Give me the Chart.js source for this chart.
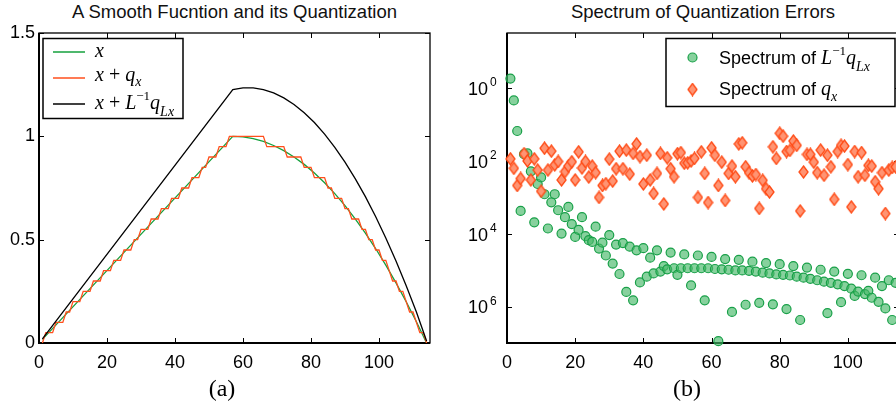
<!DOCTYPE html>
<html lang="en">
<head>
    <meta charset="UTF-8">
    <title>Smooth function, quantization and error spectrum</title>
    <script src="https://cdn.jsdelivr.net/npm/chart.js"></script>
    <style>
        html, body {
            margin: 0;
            padding: 0;
            width: 896px;
            height: 410px;
            overflow: hidden;
            background: #fff;
        }
        body { position: relative; }
        canvas { position: absolute; top: 0; }
        .title {
            position: absolute;
            top: 2px;
            font-family: 'Liberation Sans', Arial, sans-serif;
            font-size: 18.5px;
            line-height: 20px;
            text-align: center;
            color: #111;
            white-space: nowrap;
        }
        .caption {
            position: absolute;
            top: 376px;
            font-family: 'Liberation Serif', 'Times New Roman', serif;
            font-size: 24px;
            line-height: 24px;
            text-align: center;
            color: #000;
        }
    </style>
</head>
<body>
    <div class="title" style="left:39px;width:391px;">A Smooth Fucntion and its Quantization</div>
    <div class="title" style="left:507px;width:392px;">Spectrum of Quantization Errors</div>
    <canvas id="leftChart" width="450" height="410" style="left:0;"></canvas>
    <canvas id="rightChart" width="460" height="410" style="left:450px;"></canvas>
    <div class="caption" style="left:192px;width:60px;">(a)</div>
    <div class="caption" style="left:657px;width:60px;">(b)</div>

    <script>
        // ---- data ----
        const xTicks = [0, 20, 40, 60, 80, 100];
        const yTicksLin = [0, 0.5, 1, 1.5];
        const yTicksLog = [1e-6, 1e-4, 1e-2, 1];
        const yLogExp = ['6', '4', '2', '0'];   // printed exponents (no minus sign in the figure)

        // x (smooth signal)
        const smoothN = [1, 57, 60, 63, 66, 69, 72, 75, 78, 81, 84, 87, 90, 93, 96, 99, 102, 105, 108, 111, 114];
        const smoothV = [0.0175, 1, 0.9972, 0.9889, 0.9751, 0.9557, 0.9307, 0.9003, 0.8643, 0.8227, 0.7756,
                         0.7230, 0.6648, 0.6011, 0.5319, 0.4571, 0.3767, 0.2909, 0.1994, 0.1025, 0];

        // x + q_x (quantized, one value per sample 1..114)
        const quantV = [0, .05, .05, .05, .1, .1, .1, .15, .15, .2, .2, .2, .25, .25, .25, .3, .3, .3, .35, .35,
                        .35, .4, .4, .4, .45, .45, .45, .5, .5, .55, .55, .55, .6, .6, .6, .65, .65, .65, .7, .7,
                        .7, .75, .75, .75, .8, .8, .8, .85, .85, .9, .9, .9, .95, .95, .95, 1, 1, 1, 1, 1,
                        1, 1, 1, 1, 1, 1, .95, .95, .95, .95, .95, .95, .9, .9, .9, .9, .9, .85, .85, .85,
                        .8, .8, .8, .8, .75, .75, .7, .7, .7, .65, .65, .6, .6, .6, .55, .55, .5, .5, .45, .45,
                        .4, .4, .35, .3, .3, .25, .25, .2, .15, .15, .1, .05, .05, 0];

        // x + L^-1 q_Lx
        const blackN = [1, 57, 60, 63, 66, 69, 72, 75, 78, 81, 84, 87, 90, 93, 96, 99, 102, 105, 108, 111, 114];
        const blackV = [0.02, 1.226, 1.234, 1.234, 1.226, 1.210, 1.186, 1.154, 1.114, 1.067, 1.011,
                        0.947, 0.875, 0.795, 0.708, 0.612, 0.508, 0.397, 0.277, 0.150, 0.01];

        // spectrum of L^-1 q_Lx, samples 1..114
        const specLq = [1.78, 0.447, 6.5e-2, 4.17e-4, 1.5e-2, 1.58e-2, 5.1e-3, 2.04e-4, 2.29e-3, 3.47e-3,
                        1.2e-3, 1.38e-4, 7.2e-4, 1.2e-3, 4.37e-4, 1.0e-4, 2.82e-4, 5.4e-4, 1.82e-4, 8.1e-5,
                        1.26e-4, 2.82e-4, 8.5e-5, 6.6e-5, 5.9e-5, 1.55e-4, 3.89e-5, 5.62e-5, 2.51e-5, 9.1e-5,
                        1.51e-5, 5.0e-5, 7.8e-6, 5.5e-5, 2.51e-6, 4.37e-5, 1.48e-6, 3.47e-5, 4.57e-6, 3.98e-5,
                        6.6e-6, 2.19e-5, 8.1e-6, 3.47e-5, 9.1e-6, 1.29e-5, 1.05e-5, 3.02e-5, 1.12e-5, 7.4e-6,
                        1.12e-5, 2.69e-5, 1.12e-5, 3.8e-6, 1.12e-5, 2.51e-5, 1.12e-5, 1.48e-6, 1.12e-5, 2.29e-5,
                        1.07e-5, 1.12e-7, 1.05e-5, 2.0e-5, 1.02e-5, 7.1e-7, 9.8e-6, 1.91e-5, 9.8e-6, 1.12e-6,
                        9.5e-6, 1.7e-5, 9.1e-6, 1.26e-6, 8.5e-6, 1.55e-5, 8.1e-6, 1.15e-6, 7.6e-6, 1.45e-5,
                        7.4e-6, 8.5e-7, 7.1e-6, 1.29e-5, 6.6e-6, 4.27e-7, 6.2e-6, 1.17e-5, 5.75e-6, null,
                        5.25e-6, 1.02e-5, 4.79e-6, 6.6e-7, 4.47e-6, 9.1e-6, 4.07e-6, 1.32e-6, 3.63e-6, 7.9e-6,
                        3.09e-6, 1.95e-6, 2.57e-6, 7.2e-6, 2.19e-6, 2.69e-6, 1.74e-6, 6.2e-6, 1.35e-6, 3.63e-6,
                        8.9e-7, 5.25e-6, 4.27e-7, 4.47e-6];

        // spectrum of q_x, samples 1..114
        const specQ = [1.12e-2, 6.17e-3, 2.09e-3, 3.24e-3, 1.55e-2, 9.8e-3, 2.95e-3, 1.12e-2, 5.5e-3, 1.45e-3,
                       2.19e-2, 5.5e-3, 1.82e-2, 7.6e-3, 9.5e-3, 2.95e-3, 5.0e-3, 7.1e-3, 9.3e-3, 2.95e-3,
                       1.74e-2, 6.3e-3, 9.5e-3, 3.55e-3, 7.1e-3, 4.68e-3, 9.8e-4, 2.09e-3, 2.34e-3, 1.1e-2,
                       2.75e-3, 6.0e-3, 1.82e-2, 6.0e-3, 1.95e-2, 4.27e-3, 1.58e-2, 2.88e-2, 1.29e-2, 2.29e-3,
                       1.41e-2, 2.95e-3, 1.26e-3, 4.47e-3, 1.58e-2, 6.5e-4, 1.2e-2, 6.0e-3, 3.63e-3, 1.55e-2,
                       1.66e-2, 8.5e-3, 8.7e-3, 9.8e-3, 1.15e-2, 9.8e-4, 1.74e-2, 4.47e-3, 7.1e-4, 2.24e-2,
                       1.41e-2, 2.09e-3, 9.1e-3, 8.1e-4, 4.47e-3, 7.1e-3, 3.63e-3, 2.88e-2, 3.09e-2, 6.8e-3,
                       4.68e-3, 3.8e-3, 4.17e-3, 4.9e-4, 2.88e-3, 1.7e-3, 1.38e-3, 2.4e-2, 1.15e-2, 5.62e-2,
                       4.68e-2, 1.78e-2, 1.91e-2, 3.47e-2, 2.63e-2, 4.17e-4, 4.9e-3, 1.48e-2, 1.48e-2, 9.1e-3,
                       4.68e-3, 1.95e-2, 3.98e-3, 1.41e-2, 6.8e-3, 8.7e-4, 1.78e-2, 2.63e-2, 2.51e-2, 7.8e-3,
                       5.4e-4, 1.78e-2, 3.63e-3, 1.66e-2, 3.98e-3, 7.4e-3, 7.1e-3, 2.63e-3, 1.7e-3, 4.68e-3,
                       3.55e-4, 5.5e-3, 6.5e-3, 6.8e-3];

        // ---- styles ----
        const GREEN = '#14a03c';
        const ORANGE = '#ff4f1c';
        const CIRCLE_FILL = 'rgba(70, 185, 105, 0.65)';
        const CIRCLE_EDGE = '#18a048';
        const DIAMOND_FILL = '#ff9473';
        const DIAMOND_EDGE = '#ff4a14';
        const SANS = "'Liberation Sans', Arial, sans-serif";
        const SERIF = "'Liberation Serif', 'Times New Roman', serif";

        const pairs = (xs, ys) => xs.map((x, i) => ({ x: x, y: ys[i] }));
        const bySample = ys => ys.map((y, i) => ({ x: i + 1, y: y }));

        // tall diamond marker
        function makeDiamond() {
            const c = document.createElement('canvas');
            c.width = 11; c.height = 14;
            const g = c.getContext('2d');
            g.beginPath();
            g.moveTo(5.5, 1); g.lineTo(10, 7); g.lineTo(5.5, 13); g.lineTo(1, 7);
            g.closePath();
            g.fillStyle = DIAMOND_FILL; g.fill();
            g.lineWidth = 1.3; g.strokeStyle = DIAMOND_EDGE; g.stroke();
            return c;
        }
        const diamond = makeDiamond();

        // box round the plot with inward ticks on every side
        const frame = {
            id: 'frame',
            beforeDatasetsDraw(chart) {
                const { ctx, chartArea: a, scales } = chart;
                ctx.save();
                ctx.strokeStyle = '#000';
                ctx.lineWidth = 1;
                ctx.beginPath();
                scales.x.ticks.forEach(t => {
                    const p = Math.round(scales.x.getPixelForValue(t.value)) + 0.5;
                    ctx.moveTo(p, a.bottom); ctx.lineTo(p, a.bottom - 5);
                    ctx.moveTo(p, a.top); ctx.lineTo(p, a.top + 5);
                });
                scales.y.ticks.forEach(t => {
                    const p = Math.round(scales.y.getPixelForValue(t.value)) + 0.5;
                    ctx.moveTo(a.left, p); ctx.lineTo(a.left + 5, p);
                    ctx.moveTo(a.right, p); ctx.lineTo(a.right - 5, p);
                });
                ctx.stroke();
                ctx.lineWidth = 1.3;
                ctx.strokeRect(a.left, a.top, a.right - a.left, a.bottom - a.top);
                ctx.lineWidth = 2;
                ctx.beginPath();
                ctx.moveTo(a.left, a.top); ctx.lineTo(a.left, a.bottom); ctx.lineTo(a.right, a.bottom);
                ctx.stroke();
                ctx.restore();
            }
        };

        // text with sub / superscripts: parts = [text, font, dy]
        function richText(ctx, x, y, parts) {
            parts.forEach(p => {
                ctx.font = p[1];
                ctx.fillText(p[0], x, y + (p[2] || 0));
                x += ctx.measureText(p[0]).width;
            });
        }

        const MATH = 'italic 20px ' + SERIF;
        const UP = '20px ' + SERIF;
        const SUB = 'italic 14px ' + SERIF;
        const SUP = '13px ' + SERIF;

        const leftLegend = {
            id: 'leftLegend',
            afterDraw(chart) {
                const ctx = chart.ctx;
                ctx.save();
                ctx.fillStyle = '#fff';
                ctx.fillRect(43, 38.5, 140, 80);
                ctx.strokeStyle = '#000';
                ctx.lineWidth = 1.5;
                ctx.strokeRect(43, 38.5, 140, 80);
                const rows = [
                    { c: GREEN, y: 52, base: 57, parts: [['x', MATH]] },
                    { c: ORANGE, y: 78, base: 81, parts: [['x', MATH], [' + ', UP], ['q', MATH], ['x', SUB, 5]] },
                    { c: '#000', y: 104, base: 109, parts: [['x', MATH], [' + ', UP], ['L', MATH], ['\u22121', SUP, -9], ['q', MATH], ['Lx', SUB, 7]] }
                ];
                rows.forEach(r => {
                    ctx.strokeStyle = r.c;
                    ctx.lineWidth = 1.5;
                    ctx.beginPath(); ctx.moveTo(53, r.y); ctx.lineTo(85, r.y); ctx.stroke();
                    ctx.fillStyle = '#000';
                    ctx.textBaseline = 'alphabetic';
                    richText(ctx, 95, r.base, r.parts);
                });
                ctx.restore();
            }
        };

        const rightLegend = {
            id: 'rightLegend',
            afterDraw(chart) {
                const ctx = chart.ctx;
                ctx.save();
                ctx.fillStyle = '#fff';
                ctx.fillRect(216, 38.5, 229, 68);
                ctx.strokeStyle = '#000';
                ctx.lineWidth = 1.5;
                ctx.strokeRect(216, 38.5, 229, 68);
                // markers
                ctx.beginPath();
                ctx.arc(242.5, 57.5, 4.5, 0, Math.PI * 2);
                ctx.fillStyle = CIRCLE_FILL; ctx.fill();
                ctx.lineWidth = 1.2; ctx.strokeStyle = CIRCLE_EDGE; ctx.stroke();
                ctx.drawImage(diamond, 242.5 - diamond.width / 2, 89.5 - diamond.height / 2);
                ctx.fillStyle = '#000';
                const LBL = '18px ' + SANS;
                richText(ctx, 269, 63.5, [['Spectrum of ', LBL], ['L', MATH], ['\u22121', SUP, -9], ['q', MATH], ['Lx', SUB, 7]]);
                richText(ctx, 269, 95, [['Spectrum of ', LBL], ['q', MATH], ['x', SUB, 6]]);
                ctx.restore();
            }
        };

        // "10" with a raised exponent for the log axis
        const logLabels = {
            id: 'logLabels',
            afterDraw(chart) {
                const { ctx, scales } = chart;
                ctx.save();
                ctx.fillStyle = '#000';
                ctx.textBaseline = 'middle';
                yTicksLog.forEach((v, i) => {
                    const y = scales.y.getPixelForValue(v);
                    ctx.font = '18px ' + SANS;
                    ctx.textAlign = 'right';
                    ctx.fillText('10', 38, y + 2);
                    ctx.font = '12px ' + SANS;
                    ctx.textAlign = 'left';
                    ctx.fillText(yLogExp[i], 40, y - 5);
                });
                ctx.restore();
            }
        };

        const tickFont = { family: SANS, size: 18 };

        new Chart(document.getElementById('leftChart'), {
            type: 'line',
            data: {
                datasets: [
                    { label: 'x', data: pairs(smoothN, smoothV), borderColor: GREEN, borderWidth: 1.3, pointRadius: 0, tension: 0, order: 3 },
                    { label: 'x + q_x', data: bySample(quantV), borderColor: ORANGE, borderWidth: 1.3, pointRadius: 0, tension: 0, order: 2 },
                    { label: 'x + L^-1 q_Lx', data: pairs(blackN, blackV), borderColor: '#000', borderWidth: 1.3, pointRadius: 0, tension: 0, order: 1 }
                ]
            },
            options: {
                responsive: false,
                animation: false,
                events: [],
                layout: { padding: { top: 33, right: 20, left: 0, bottom: 0 } },
                plugins: { legend: { display: false }, tooltip: { enabled: false } },
                scales: {
                    x: {
                        type: 'linear', min: 0, max: 115,
                        afterBuildTicks: s => { s.ticks = xTicks.map(v => ({ value: v })); },
                        afterFit: s => { s.height = 67; },
                        grid: { display: false, drawTicks: false },
                        border: { display: false },
                        ticks: { color: '#000', font: tickFont, padding: 9, maxRotation: 0 }
                    },
                    y: {
                        type: 'linear', min: 0, max: 1.5,
                        afterBuildTicks: s => { s.ticks = yTicksLin.map(v => ({ value: v })); },
                        afterFit: s => { s.width = 39; },
                        grid: { display: false, drawTicks: false },
                        border: { display: false },
                        ticks: { color: '#000', font: tickFont, padding: 4, callback: v => String(v) }
                    }
                }
            },
            plugins: [frame, leftLegend]
        });

        new Chart(document.getElementById('rightChart'), {
            type: 'scatter',
            data: {
                datasets: [
                    { label: 'Spectrum of L^-1 q_Lx', data: bySample(specLq), pointStyle: 'circle', pointRadius: 4.5,
                      backgroundColor: CIRCLE_FILL, borderColor: CIRCLE_EDGE, borderWidth: 1.2, order: 2, clip: 8 },
                    { label: 'Spectrum of q_x', data: bySample(specQ), pointStyle: diamond, pointRadius: 5, order: 1, clip: 8 }
                ]
            },
            options: {
                responsive: false,
                animation: false,
                events: [],
                layout: { padding: { top: 33, right: 11, left: 0, bottom: 0 } },
                plugins: { legend: { display: false }, tooltip: { enabled: false } },
                scales: {
                    x: {
                        type: 'linear', min: 0, max: 115,
                        afterBuildTicks: s => { s.ticks = xTicks.map(v => ({ value: v })); },
                        afterFit: s => { s.height = 67; },
                        grid: { display: false, drawTicks: false },
                        border: { display: false },
                        ticks: { color: '#000', font: tickFont, padding: 9, maxRotation: 0 }
                    },
                    y: {
                        type: 'logarithmic', min: 1e-7, max: 31.62,
                        afterBuildTicks: s => { s.ticks = yTicksLog.map(v => ({ value: v })); },
                        afterFit: s => { s.width = 57; },
                        grid: { display: false, drawTicks: false },
                        border: { display: false },
                        ticks: { display: false }
                    }
                }
            },
            plugins: [frame, rightLegend, logLabels]
        });
    </script>
</body>
</html>
